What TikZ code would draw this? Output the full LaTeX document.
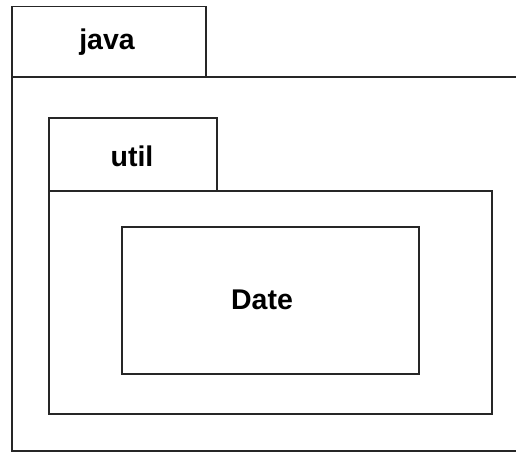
\documentclass[tikz,border=0pt]{standalone}
\usepackage{fontspec}
\setmainfont{Liberation Sans}
\begin{document}
\begin{tikzpicture}[x=1pt,y=-1pt,
  box/.style={draw=black!85,line width=1.5pt,fill=white,inner sep=0pt,anchor=north west},
  lbl/.style={font=\fontsize{28.5}{31}\selectfont\bfseries}]
\useasboundingbox (0,0) rectangle (516,452);
\clip (0,0) rectangle (516,452);
% java package
\node[box,minimum width=194pt,minimum height=70pt] (javatab) at (11,6) {};
\node[box,minimum width=520pt,minimum height=374pt] (javabody) at (11,76) {};
\node[lbl] (javalbl) at (107,42) {java};
% util package
\node[box,minimum width=168pt,minimum height=73pt] (utiltab) at (48,117) {};
\node[box,minimum width=443pt,minimum height=223pt] (utilbody) at (48,190) {};
\node[lbl] (utillbl) at (132,156) {util};
% Date class
\node[box,minimum width=297pt,minimum height=147pt] (date) at (121,226) {};
\node[lbl] (datelbl) at (262,300) {Date};
\end{tikzpicture}
\end{document}
